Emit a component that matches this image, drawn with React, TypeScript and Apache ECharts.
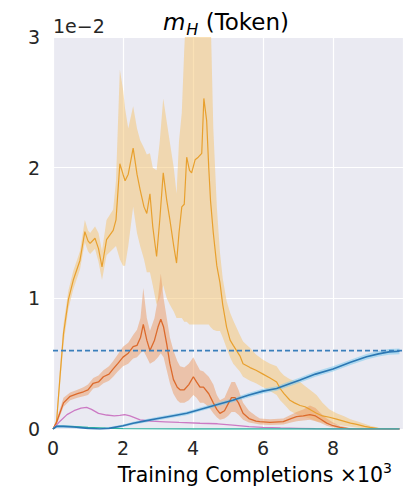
import React, { useEffect, useRef } from "react";
import * as echarts from "echarts";

// ---------------- data (values in units of 1e-2, x in thousands) ----------------
const xTickValues = [0, 2, 4, 6, 8];
const yTickValues = [0, 1, 2, 3];
const titleMain = "m";
const titleSub = "H";
const titleRest = " (Token)";
const yScaleText = "1e\u22122";
const xAxisText = "Training Completions \u00d710";
const xAxisSup = "3";
const referenceLevel = 0.6;

const goldX = [0, 0.1, 0.2, 0.3, 0.44, 0.58, 0.77, 0.91, 1.0, 1.06, 1.2, 1.3, 1.4, 1.53, 1.72, 1.8, 1.91, 2.0, 2.06, 2.15, 2.29, 2.4, 2.49, 2.6, 2.68, 2.77, 2.85, 2.96, 3.05, 3.15, 3.25, 3.34, 3.45, 3.53, 3.6, 3.68, 3.75, 3.82, 3.9, 3.96, 4.06, 4.15, 4.25, 4.31, 4.39, 4.45, 4.5, 4.58, 4.68, 4.77, 4.85, 4.96, 5.06, 5.15, 5.34, 5.43, 5.63, 5.8, 6.0, 6.2, 6.39, 6.49, 6.6, 6.77, 6.9, 7.06, 7.2, 7.34, 7.53, 7.7, 7.9, 8.1, 8.3, 8.5, 8.68, 8.9, 9.06, 9.3, 9.5, 9.9];
const goldY = [0, 0.05, 0.4, 0.73, 0.99, 1.14, 1.29, 1.51, 1.44, 1.42, 1.46, 1.38, 1.24, 1.45, 1.52, 1.6, 2.03, 1.95, 1.9, 1.95, 2.15, 1.95, 1.83, 1.7, 1.65, 1.8, 1.55, 1.32, 1.6, 1.96, 1.75, 1.6, 1.4, 1.27, 1.5, 1.7, 1.72, 2.08, 1.98, 1.96, 2.06, 2.08, 2.11, 2.53, 2.36, 2.0, 1.75, 1.5, 1.25, 1.12, 0.95, 0.78, 0.68, 0.64, 0.56, 0.5, 0.47, 0.45, 0.42, 0.39, 0.36, 0.31, 0.27, 0.22, 0.2, 0.18, 0.17, 0.15, 0.12, 0.1, 0.09, 0.075, 0.06, 0.045, 0.035, 0.02, 0.012, 0.004, 0, 0];
const goldLo = [0, 0.03, 0.33, 0.65, 0.92, 1.07, 1.22, 1.43, 1.36, 1.34, 1.38, 1.28, 1.14, 1.33, 1.38, 1.4, 1.3, 1.25, 1.25, 1.4, 1.7, 1.5, 1.4, 1.3, 1.2, 1.2, 1.1, 0.95, 1.0, 1.1, 1.0, 0.95, 0.9, 0.85, 0.85, 0.85, 0.82, 0.82, 0.8, 0.8, 0.8, 0.8, 0.8, 0.8, 0.8, 0.8, 0.78, 0.76, 0.75, 0.75, 0.7, 0.62, 0.55, 0.5, 0.44, 0.4, 0.37, 0.35, 0.32, 0.29, 0.26, 0.22, 0.19, 0.14, 0.12, 0.1, 0.09, 0.08, 0.06, 0.05, 0.045, 0.035, 0.025, 0.018, 0.012, 0.005, 0.002, 0, 0, 0];
const goldHi = [0, 0.08, 0.47, 0.8, 1.06, 1.21, 1.36, 1.6, 1.52, 1.5, 1.55, 1.5, 1.36, 1.6, 1.68, 1.9, 2.75, 2.6, 2.45, 2.3, 2.47, 2.3, 2.21, 2.15, 2.1, 2.11, 2.0, 1.98, 2.2, 2.53, 2.35, 2.19, 2.0, 1.8, 2.2, 2.42, 2.9, 3.3, 3.4, 3.4, 3.4, 3.4, 3.4, 3.5, 3.5, 3.4, 3.2, 2.3, 1.7, 1.35, 1.15, 0.98, 0.89, 0.83, 0.72, 0.67, 0.62, 0.57, 0.53, 0.5, 0.48, 0.44, 0.41, 0.38, 0.37, 0.36, 0.33, 0.3, 0.26, 0.2, 0.15, 0.12, 0.1, 0.075, 0.06, 0.04, 0.025, 0.01, 0, 0];

const orangeX = [0, 0.1, 0.3, 0.49, 0.7, 0.87, 1.0, 1.15, 1.3, 1.44, 1.6, 1.72, 1.85, 2.0, 2.15, 2.29, 2.4, 2.5, 2.58, 2.68, 2.77, 2.9, 3.0, 3.08, 3.16, 3.25, 3.34, 3.44, 3.55, 3.63, 3.75, 3.88, 4.01, 4.1, 4.2, 4.3, 4.45, 4.58, 4.68, 4.77, 4.9, 5.0, 5.1, 5.2, 5.3, 5.43, 5.6, 5.8, 5.91, 6.2, 6.58, 6.8, 6.96, 7.15, 7.34, 7.5, 7.65, 7.82, 8.0, 8.2, 8.48, 8.8, 9.9];
const orangeY = [0, 0.05, 0.2, 0.25, 0.27, 0.285, 0.3, 0.35, 0.36, 0.4, 0.42, 0.46, 0.5, 0.55, 0.58, 0.63, 0.64, 0.7, 0.8, 0.68, 0.6, 0.68, 0.78, 0.84, 0.78, 0.65, 0.5, 0.38, 0.32, 0.3, 0.3, 0.34, 0.4, 0.36, 0.32, 0.32, 0.27, 0.2, 0.15, 0.12, 0.14, 0.19, 0.24, 0.24, 0.2, 0.12, 0.08, 0.06, 0.056, 0.05, 0.056, 0.08, 0.094, 0.1, 0.11, 0.1, 0.075, 0.045, 0.025, 0.012, 0, 0, 0];
const orangeLo = [0, 0.03, 0.17, 0.22, 0.24, 0.25, 0.26, 0.31, 0.32, 0.35, 0.37, 0.4, 0.44, 0.48, 0.5, 0.54, 0.55, 0.58, 0.6, 0.55, 0.5, 0.52, 0.55, 0.58, 0.55, 0.45, 0.35, 0.27, 0.22, 0.2, 0.2, 0.22, 0.26, 0.24, 0.2, 0.2, 0.17, 0.12, 0.09, 0.07, 0.08, 0.1, 0.13, 0.13, 0.11, 0.07, 0.05, 0.04, 0.035, 0.03, 0.035, 0.05, 0.06, 0.065, 0.07, 0.06, 0.045, 0.025, 0.012, 0.005, 0, 0, 0];
const orangeHi = [0, 0.07, 0.24, 0.28, 0.3, 0.32, 0.34, 0.39, 0.41, 0.45, 0.48, 0.52, 0.57, 0.63, 0.66, 0.72, 0.76, 0.85, 1.08, 0.85, 0.75, 0.85, 1.0, 1.19, 1.0, 0.85, 0.7, 0.6, 0.52, 0.48, 0.47, 0.5, 0.55, 0.5, 0.45, 0.44, 0.4, 0.34, 0.26, 0.22, 0.24, 0.3, 0.36, 0.36, 0.3, 0.2, 0.14, 0.1, 0.08, 0.075, 0.08, 0.11, 0.13, 0.15, 0.18, 0.16, 0.12, 0.08, 0.05, 0.025, 0.008, 0, 0];

const pinkX = [0, 0.2, 0.4, 0.6, 0.8, 0.96, 1.1, 1.3, 1.53, 1.75, 1.91, 2.05, 2.2, 2.49, 2.8, 3.2, 3.6, 4.2, 4.7, 5.14, 5.6, 6.0, 6.5, 7.0, 7.5, 8.0, 9.9];
const pinkY = [0, 0.06, 0.11, 0.14, 0.16, 0.165, 0.15, 0.12, 0.107, 0.1, 0.105, 0.11, 0.1, 0.07, 0.06, 0.055, 0.05, 0.044, 0.04, 0.03, 0.018, 0.012, 0.008, 0.005, 0.002, 0, 0];

const blueX = [0, 0.1, 0.3, 0.6, 1.0, 1.34, 1.6, 2.0, 2.29, 2.6, 3.0, 3.4, 3.82, 4.2, 4.6, 5.14, 5.6, 6.0, 6.39, 6.7, 7.06, 7.5, 8.0, 8.5, 8.96, 9.3, 9.6, 9.9];
const blueY = [0, 0.02, 0.02, 0.015, 0.005, 0, 0.005, 0.025, 0.044, 0.06, 0.08, 0.1, 0.12, 0.15, 0.18, 0.22, 0.26, 0.29, 0.31, 0.34, 0.375, 0.42, 0.46, 0.51, 0.553, 0.575, 0.59, 0.595];
const blueLo = [0, 0.01, 0.01, 0.005, 0, 0, 0, 0.015, 0.032, 0.048, 0.067, 0.087, 0.106, 0.135, 0.165, 0.204, 0.243, 0.272, 0.292, 0.321, 0.355, 0.4, 0.44, 0.49, 0.532, 0.554, 0.568, 0.573];
const blueHi = [0.01, 0.03, 0.03, 0.025, 0.015, 0.01, 0.015, 0.035, 0.056, 0.072, 0.093, 0.113, 0.134, 0.165, 0.195, 0.236, 0.277, 0.308, 0.328, 0.359, 0.395, 0.44, 0.48, 0.53, 0.574, 0.596, 0.612, 0.617];

const greenX = [0, 0.1, 0.5, 1.0, 1.5, 2.0, 3.0, 4.0, 9.9];
const greenY = [0, 0.02, 0.02, 0.012, 0.006, 0.003, 0.001, 0, 0];

const refX = [0, 10];

// ---------------- helpers ----------------
const FONT = "DejaVu Sans";

function pairs(xs: number[], ys: number[]) {
  return xs.map((x, i) => [x, ys[i]]);
}

// clip a polygon (pixel space) to a horizontal strip [top, bottom]
function clipStrip(points: number[][], top: number, bottom: number) {
  const clipEdge = (pts: number[][], inside: (p: number[]) => boolean, edgeY: number) => {
    const out: number[][] = [];
    for (let i = 0; i < pts.length; i++) {
      const cur = pts[i];
      const prev = pts[(i + pts.length - 1) % pts.length];
      const cin = inside(cur);
      const pin = inside(prev);
      if (cin !== pin) {
        const t = (edgeY - prev[1]) / (cur[1] - prev[1]);
        out.push([prev[0] + t * (cur[0] - prev[0]), edgeY]);
      }
      if (cin) out.push(cur);
    }
    return out;
  };
  let r = clipEdge(points, (p) => p[1] >= top, top);
  r = clipEdge(r, (p) => p[1] <= bottom, bottom);
  return r;
}

function band(id: string, xs: number[], lo: number[], hi: number[], color: string, opacity: number, z: number) {
  return {
    type: "custom",
    name: id,
    coordinateSystem: "cartesian2d",
    silent: true,
    z,
    data: [[xs[0], lo[0]]],
    renderItem: (params: any, api: any) => {
      const pts: number[][] = [];
      for (let i = 0; i < xs.length; i++) pts.push(api.coord([xs[i], hi[i]]));
      for (let i = xs.length - 1; i >= 0; i--) pts.push(api.coord([xs[i], lo[i]]));
      const cs = params.coordSys;
      const clipped = clipStrip(pts, cs.y, cs.y + cs.height);
      return {
        type: "polygon",
        shape: { points: clipped },
        style: { fill: color, opacity, stroke: "none" },
      };
    },
  };
}

function line(name: string, xs: number[], ys: number[], color: string, width: number, z: number) {
  return {
    type: "line",
    name,
    data: pairs(xs, ys),
    symbol: "none",
    lineStyle: { color, width },
    silent: true,
    z,
  };
}

export default function App() {
  const ref = useRef<HTMLDivElement>(null);

  useEffect(() => {
    if (!ref.current) return;
    const chart = echarts.init(ref.current, undefined, { renderer: "svg" });
    const option: any = {
      animation: false,
      backgroundColor: "#ffffff",
      grid: { left: 53, top: 37, width: 350, height: 392, backgroundColor: "#eaeaf2", show: true, borderWidth: 0 },
      xAxis: {
        type: "value",
        min: 0,
        max: 10,
        interval: 2,
        axisLine: { show: false },
        axisTick: { show: false },
        splitLine: { show: true, lineStyle: { color: "#ffffff", width: 1.2 } },
        axisLabel: {
          margin: 9,
          fontFamily: FONT,
          fontSize: 19,
          color: "#262626",
          formatter: (v: number) => (xTickValues.indexOf(v) >= 0 ? String(v) : ""),
        },
      },
      yAxis: {
        type: "value",
        min: 0,
        max: 3,
        interval: 1,
        axisLine: { show: false },
        axisTick: { show: false },
        splitLine: { show: true, lineStyle: { color: "#ffffff", width: 1.2 } },
        axisLabel: {
          margin: 13,
          fontFamily: FONT,
          fontSize: 19,
          color: "#262626",
          formatter: (v: number) => (yTickValues.indexOf(v) >= 0 ? String(v) : ""),
        },
      },
      graphic: [
        {
          type: "text",
          x: 226,
          y: 7,
          style: {
            align: "center",
            text: "{it|" + titleMain + "}{sub|" + titleSub + "}{n|" + titleRest + "}",
            rich: {
              it: { fontFamily: FONT, fontStyle: "italic", fontSize: 23, color: "#262626", lineHeight: 30 },
              sub: { fontFamily: FONT, fontStyle: "italic", fontSize: 16, color: "#262626", lineHeight: 30, verticalAlign: "bottom", padding: [0, 0, 0, 1] },
              n: { fontFamily: FONT, fontSize: 23, color: "#262626", lineHeight: 30 },
            },
          },
        },
        {
          type: "text",
          left: 53,
          top: 16,
          style: { text: yScaleText, fontFamily: FONT, fontSize: 19, fill: "#262626" },
        },
        {
          type: "text",
          right: 16,
          top: 461,
          style: {
            text: "{n|" + xAxisText + "}{sup|" + xAxisSup + "}",
            rich: {
              n: { fontFamily: FONT, fontSize: 20.5, color: "#262626", lineHeight: 27 },
              sup: { fontFamily: FONT, fontSize: 14, color: "#262626", lineHeight: 27, verticalAlign: "top" },
            },
          },
        },
      ],
      series: [
        band("goldBand", goldX, goldLo, goldHi, "#f5c46e", 0.5, 2),
        band("orangeBand", orangeX, orangeLo, orangeHi, "#ec9a62", 0.5, 2),
        band("blueBand", blueX, blueLo, blueHi, "#7cc8ec", 0.55, 2),
        line("gold", goldX, goldY, "#e8a02e", 1.2, 3),
        line("orange", orangeX, orangeY, "#dc6a2c", 1.3, 3),
        line("pink", pinkX, pinkY, "#cc7ac4", 1.3, 3),
        line("green", greenX, greenY, "#2fb3a0", 1.3, 3),
        line("blue", blueX, blueY, "#2b77b3", 1.6, 4),
        {
          type: "line",
          name: "reference",
          data: refX.map((x) => [x, referenceLevel]),
          symbol: "none",
          lineStyle: { color: "#3a7fbb", width: 1.6, type: [5, 3] },
          silent: true,
          z: 5,
        },
      ],
    };
    chart.setOption(option);
    return () => chart.dispose();
  }, []);

  return <div ref={ref} style={{ position: "fixed", left: 0, top: 0, width: 408, height: 488 }} />;
}
